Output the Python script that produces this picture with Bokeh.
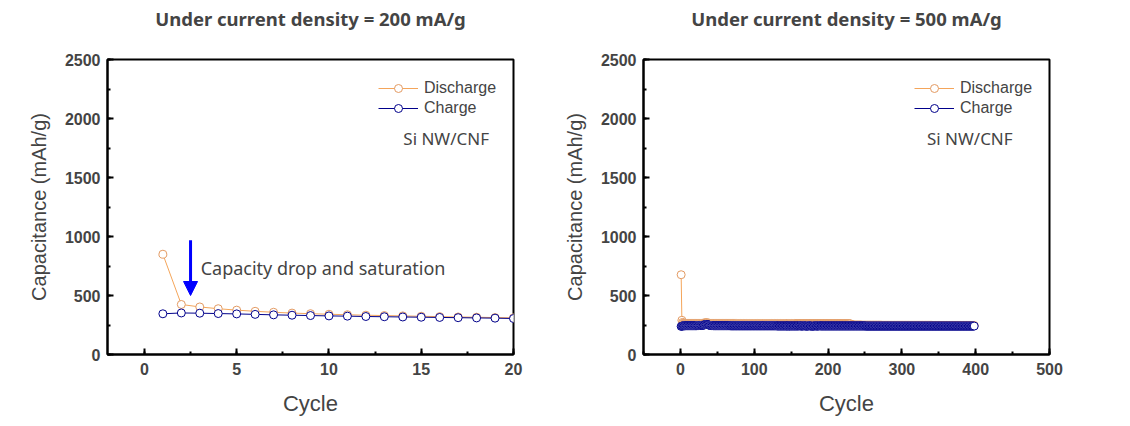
from bokeh.plotting import figure
from bokeh.layouts import row
from bokeh.models import (SingleIntervalTicker, Range1d, Legend, LegendItem,
                          Label, Arrow, NormalHead, Title)
from bokeh.embed import file_html
from bokeh.resources import INLINE

# ---------------- data: left panel (200 mA/g) ----------------
cycles_a = list(range(1, 21))
discharge_a = [850, 424, 403, 388, 376, 366, 358, 351, 346, 341,
               337, 333, 330, 327, 324, 321, 318, 316, 313, 311]
charge_a = [345, 352, 350, 347, 344, 340, 336, 333, 330, 327,
            325, 322, 320, 318, 316, 314, 312, 310, 308, 305]

# ---------------- data: right panel (500 mA/g) ----------------
discharge_b = [
    676, 290, 272, 266, 264, 263, 263, 263, 263, 263, 263, 263, 263, 263, 263, 263, 263, 263, 263, 263,
    263, 263, 263, 263, 263, 263, 263, 263, 263, 264, 265, 266, 267, 268, 268, 268, 267, 266, 265, 264,
    263, 263, 263, 263, 263, 263, 263, 263, 263, 263, 263, 263, 263, 263, 263, 263, 263, 263, 263, 263,
    263, 263, 263, 263, 263, 263, 263, 263, 263, 263, 263, 263, 263, 263, 263, 263, 262, 262, 262, 262,
    262, 262, 262, 262, 262, 262, 262, 262, 262, 262, 262, 262, 262, 262, 262, 262, 262, 262, 262, 262,
    262, 262, 262, 262, 262, 262, 262, 262, 262, 262, 262, 262, 262, 262, 262, 262, 262, 262, 262, 262,
    262, 262, 262, 262, 262, 262, 262, 262, 262, 262, 262, 262, 262, 262, 262, 262, 262, 262, 262, 262,
    262, 262, 262, 262, 262, 262, 262, 262, 262, 262, 262, 262, 262, 262, 262, 262, 261, 261, 261, 261,
    261, 261, 261, 261, 261, 261, 261, 261, 261, 261, 261, 261, 261, 261, 261, 261, 261, 261, 261, 261,
    261, 261, 261, 261, 261, 261, 261, 261, 261, 261, 261, 261, 261, 261, 261, 261, 261, 261, 261, 261,
    261, 261, 261, 261, 261, 261, 261, 261, 261, 261, 261, 261, 261, 261, 261, 261, 261, 261, 261, 261,
    261, 261, 261, 261, 261, 261, 261, 261, 261, 261, 254, 252, 251, 250, 250, 249, 249, 249, 249, 249,
    249, 249, 249, 249, 249, 248, 248, 248, 248, 248, 248, 248, 248, 248, 248, 248, 248, 248, 248, 248,
    248, 248, 248, 248, 248, 248, 248, 248, 248, 248, 248, 248, 247, 247, 247, 247, 247, 247, 247, 247,
    247, 247, 247, 247, 247, 247, 247, 247, 247, 247, 247, 247, 247, 247, 247, 247, 247, 247, 247, 247,
    247, 247, 247, 247, 247, 247, 247, 247, 247, 247, 247, 247, 247, 247, 247, 247, 247, 247, 247, 247,
    247, 247, 247, 247, 247, 247, 247, 247, 247, 247, 247, 247, 247, 247, 247, 247, 247, 247, 247, 247,
    246, 246, 246, 246, 246, 246, 246, 246, 246, 246, 246, 246, 246, 246, 246, 246, 246, 246, 246, 246,
    246, 246, 246, 246, 246, 246, 246, 246, 246, 246, 246, 246, 246, 246, 246, 246, 246, 246, 246, 246,
    246, 246, 246, 246, 246, 246, 246, 246, 246, 246, 246, 246, 246, 246, 246, 246, 246, 246]
charge_b = [
    238, 241, 242, 243, 243, 243, 244, 244, 244, 244, 244, 244, 244, 244, 244, 244, 244, 244, 244, 244,
    244, 244, 245, 245, 245, 246, 246, 246, 247, 248, 249, 250, 252, 253, 254, 254, 253, 251, 249, 247,
    246, 245, 245, 245, 244, 244, 244, 244, 244, 244, 244, 244, 244, 244, 244, 244, 244, 244, 244, 244,
    244, 244, 244, 244, 244, 244, 244, 243, 243, 243, 243, 243, 243, 243, 243, 243, 243, 243, 243, 243,
    243, 243, 243, 243, 243, 243, 243, 243, 243, 243, 243, 243, 243, 243, 243, 243, 243, 243, 243, 243,
    243, 243, 243, 243, 243, 243, 243, 243, 243, 243, 243, 243, 243, 243, 243, 243, 243, 243, 243, 243,
    243, 243, 243, 243, 243, 243, 243, 243, 243, 243, 242, 242, 242, 242, 242, 242, 242, 242, 242, 242,
    242, 242, 242, 242, 242, 242, 242, 242, 242, 242, 242, 242, 242, 242, 242, 242, 242, 242, 242, 242,
    243, 243, 242, 241, 241, 242, 243, 243, 242, 241, 240, 241, 242, 243, 243, 242, 241, 240, 240, 241,
    242, 242, 243, 242, 241, 241, 242, 243, 243, 242, 242, 242, 242, 242, 242, 242, 242, 242, 242, 242,
    242, 242, 242, 242, 242, 242, 242, 242, 242, 242, 242, 242, 242, 242, 242, 242, 242, 242, 242, 242,
    242, 242, 242, 242, 242, 242, 242, 242, 242, 242, 242, 242, 242, 242, 242, 242, 242, 242, 242, 242,
    242, 242, 242, 242, 242, 242, 242, 242, 242, 242, 241, 241, 241, 241, 241, 241, 241, 241, 241, 241,
    241, 241, 241, 241, 241, 241, 241, 241, 241, 241, 241, 241, 241, 241, 241, 241, 241, 241, 241, 241,
    241, 241, 241, 241, 241, 241, 241, 241, 241, 241, 241, 241, 241, 241, 241, 241, 241, 241, 241, 241,
    241, 241, 241, 241, 241, 241, 241, 241, 241, 241, 241, 241, 241, 241, 241, 241, 241, 241, 241, 241,
    241, 241, 241, 241, 241, 241, 241, 241, 241, 241, 241, 241, 241, 241, 241, 241, 241, 241, 241, 241,
    241, 241, 241, 241, 241, 241, 241, 241, 241, 241, 241, 241, 241, 241, 241, 241, 241, 241, 241, 241,
    241, 241, 241, 241, 241, 241, 241, 241, 241, 241, 241, 241, 241, 241, 241, 241, 241, 241, 241, 241,
    241, 241, 241, 241, 241, 241, 241, 241, 241, 241, 241, 241, 241, 241, 241, 241, 241, 241]
cycles_b = list(range(1, len(charge_b) + 1))

titles = ["Under current density = 200 mA/g", "Under current density = 500 mA/g"]
x_label = "Cycle"
y_label = "Capacitance (mAh/g)"
sample_label = "Si NW/CNF"
sample_pos = [(16.35, 1830), (392, 1830)]
annot_text = "Capacity drop and saturation"
annot_arrow = dict(x=2.5, y_start=968, y_end=500)
annot_pos = dict(x=3.05, y=737)

ORANGE_LINE = "#F4A55A"
ORANGE_MARK = "#E39A62"
NAVY = "#00008B"
FONT = "Liberation Sans"
KFONT = "Noto Sans"


def make_panel(title, x, dis, cha, xr, xint, left_border, right_border):
    p = figure(frame_width=406, frame_height=295, output_backend="svg",
               toolbar_location=None, x_range=Range1d(*xr), y_range=Range1d(0, 2500),
               min_border_left=left_border, min_border_right=right_border,
               min_border_top=10, min_border_bottom=10)
    # spacer panel between frame and title
    p.add_layout(Title(text=" ", text_font_size="1px", standoff=23), "above")
    p.title.text = title
    p.title.align = "center"
    p.title.text_font = KFONT
    p.title.text_font_size = "18.5px"
    p.title.text_font_style = "bold"
    p.title.standoff = 6
    p.grid.visible = False
    p.outline_line_color = "black"
    p.outline_line_width = 2
    p.outline_line_alpha = 1
    p.xaxis.ticker = SingleIntervalTicker(interval=xint, num_minor_ticks=2)
    p.yaxis.ticker = SingleIntervalTicker(interval=500, num_minor_ticks=2)
    for ax in (p.xaxis, p.yaxis):
        ax.axis_line_width = 2
        ax.major_tick_in = 6
        ax.major_tick_out = 0
        ax.minor_tick_in = 3
        ax.minor_tick_out = 0
        ax.major_tick_line_width = 2
        ax.minor_tick_line_width = 2
        ax.major_label_text_font = FONT
        ax.major_label_text_font_style = "bold"
        ax.major_label_text_font_size = "16px"
        ax.axis_label_text_font = FONT
        ax.axis_label_text_font_style = "normal"
    p.xaxis.axis_label = x_label
    p.xaxis.axis_label_text_font_size = "22px"
    p.xaxis.major_label_standoff = 8
    p.xaxis.axis_label_standoff = 13
    p.yaxis.axis_label = y_label
    p.yaxis.axis_label_text_font_size = "20px"
    p.yaxis.major_label_standoff = 7
    p.yaxis.axis_label_standoff = 12

    l1 = p.line(x, dis, line_color=ORANGE_LINE, line_width=1)
    c1 = p.scatter(x, dis, marker="circle", size=8, line_color=ORANGE_MARK,
                   fill_color="white", line_width=1)
    l2 = p.line(x, cha, line_color=NAVY, line_width=1)
    c2 = p.scatter(x, cha, marker="circle", size=8, line_color=NAVY,
                   fill_color="white", line_width=1)
    leg = Legend(items=[LegendItem(label="Discharge", renderers=[l1, c1]),
                        LegendItem(label="Charge", renderers=[l2, c2])],
                 location=(271, 236), border_line_color=None,
                 background_fill_alpha=0, label_text_font=FONT,
                 label_text_font_size="16px", glyph_width=40, glyph_height=20,
                 label_height=20, spacing=0, padding=0, margin=0,
                 label_standoff=6)
    p.add_layout(leg)
    return p


p1 = make_panel(titles[0], cycles_a, discharge_a, charge_a, (-2, 20), 5, 107, 20)
p2 = make_panel(titles[1], cycles_b, discharge_b, charge_b, (-50, 500), 100, 110, 20)

for p, (sx, sy) in zip((p1, p2), sample_pos):
    p.add_layout(Label(x=sx, y=sy, text=sample_label, text_font=KFONT,
                       text_font_size="17px", text_align="center",
                       text_baseline="middle"))

p1.add_layout(Arrow(end=NormalHead(size=14, fill_color="#0000FF", line_color="#0000FF"),
                    x_start=annot_arrow["x"], y_start=annot_arrow["y_start"],
                    x_end=annot_arrow["x"], y_end=annot_arrow["y_end"],
                    line_color="#0000FF", line_width=3))
p1.add_layout(Label(x=annot_pos["x"], y=annot_pos["y"], text=annot_text,
                    text_font=KFONT, text_font_size="18px", text_baseline="middle"))

layout = row(p1, p2)
open("out.html", "w").write(file_html(layout, INLINE))
